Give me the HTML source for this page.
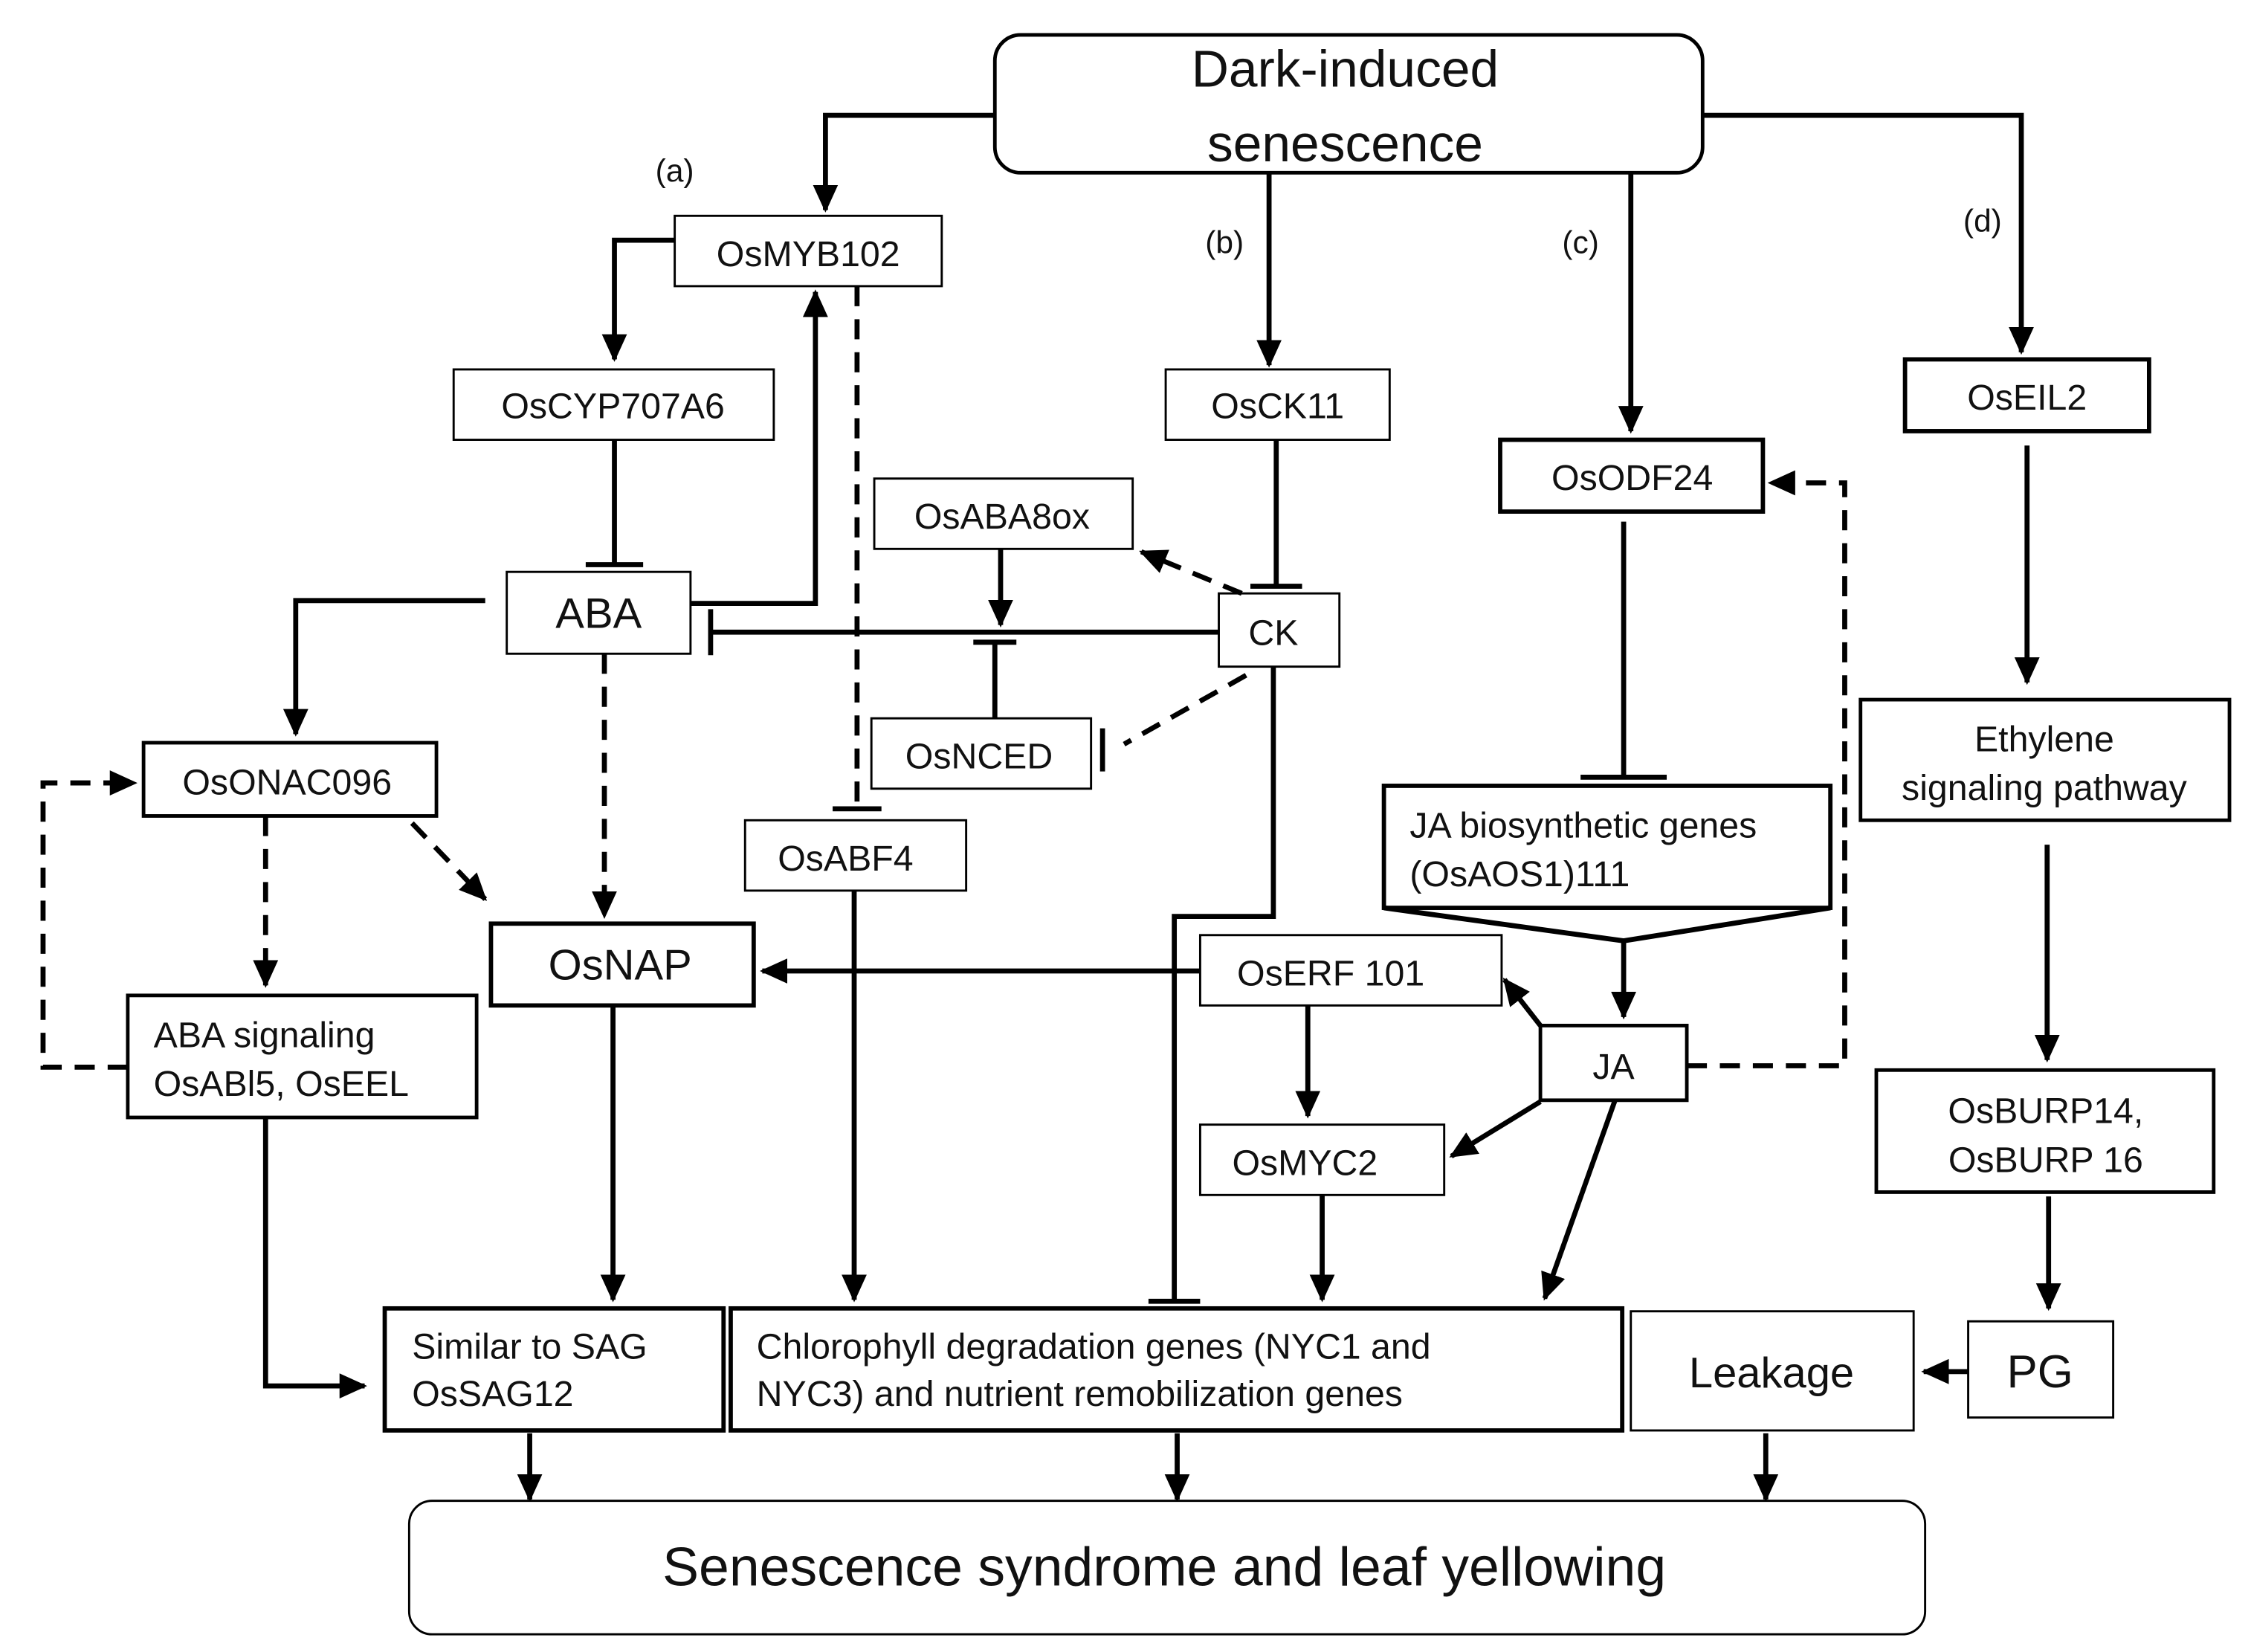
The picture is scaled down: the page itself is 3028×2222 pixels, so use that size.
<!DOCTYPE html>
<html><head><meta charset="utf-8"><style>
html,body{margin:0;padding:0;background:#fff}
svg{display:block}
text{font-family:"Liberation Sans",sans-serif;fill:#111}
</style></head><body>
<svg width="3028" height="2222" viewBox="0 0 1568 1150" xmlns="http://www.w3.org/2000/svg">
<defs>
<marker id="a" markerWidth="6" markerHeight="6" refX="5" refY="3" orient="auto" markerUnits="strokeWidth"><path d="M0,0.5 L5.5,3 L0,5.5 z" fill="#000"/></marker>
</defs>
<g fill="#fff" stroke="#000">
<rect x="693" y="24" width="493" height="96" rx="18" stroke-width="2.5"/>
<rect x="470" y="150" width="186" height="49" stroke-width="1.5"/>
<rect x="316" y="257" width="223" height="49" stroke-width="1.5"/>
<rect x="353" y="398" width="128" height="57" stroke-width="1.5"/>
<rect x="812" y="257" width="156" height="49" stroke-width="1.5"/>
<rect x="609" y="333" width="180" height="49" stroke-width="1.5"/>
<rect x="849" y="413" width="84" height="51" stroke-width="1.5"/>
<rect x="607" y="500" width="153" height="49" stroke-width="1.5"/>
<rect x="519" y="571" width="154" height="49" stroke-width="1.5"/>
<rect x="100" y="517" width="204" height="51" stroke-width="2.5"/>
<rect x="342" y="643" width="183" height="57" stroke-width="3"/>
<rect x="89" y="693" width="243" height="85" stroke-width="2.5"/>
<rect x="1045" y="306" width="183" height="50" stroke-width="3"/>
<rect x="964" y="547" width="311" height="85" stroke-width="3"/>
<rect x="836" y="651" width="210" height="49" stroke-width="1.5"/>
<rect x="1073" y="714" width="102" height="52" stroke-width="2.5"/>
<rect x="836" y="783" width="170" height="49" stroke-width="1.5"/>
<rect x="1327" y="250" width="170" height="50" stroke-width="3"/>
<rect x="1296" y="487" width="257" height="84" stroke-width="2.5"/>
<rect x="1307" y="745" width="235" height="85" stroke-width="2.5"/>
<rect x="1371" y="920" width="101" height="67" stroke-width="1.5"/>
<rect x="1136" y="913" width="197" height="83" stroke-width="1.5"/>
<rect x="268" y="911" width="236" height="85" stroke-width="3"/>
<rect x="509" y="911" width="621" height="85" stroke-width="3"/>
<rect x="285" y="1045" width="1056" height="93" rx="16" stroke-width="1.5"/>
</g>
<g font-size="25" text-anchor="middle">
<text x="937" y="60" font-size="36">Dark-induced</text>
<text x="937" y="112" font-size="36">senescence</text>
<text x="563" y="185">OsMYB102</text>
<text x="427" y="291">OsCYP707A6</text>
<text x="417" y="437" font-size="30">ABA</text>
<text x="890" y="291">OsCK11</text>
<text x="698" y="368">OsABA8ox</text>
<text x="887" y="449">CK</text>
<text x="682" y="535">OsNCED</text>
<text x="589" y="606">OsABF4</text>
<text x="200" y="553">OsONAC096</text>
<text x="432" y="682" font-size="30">OsNAP</text>
<text x="1137" y="341">OsODF24</text>
<text x="927" y="686">OsERF 101</text>
<text x="1124" y="751">JA</text>
<text x="909" y="818">OsMYC2</text>
<text x="1412" y="285">OsEIL2</text>
<text x="1424" y="523">Ethylene</text>
<text x="1424" y="557">signaling pathway</text>
<text x="1425" y="782">OsBURP14,</text>
<text x="1425" y="816">OsBURP 16</text>
<text x="1421" y="966" font-size="32">PG</text>
<text x="1234" y="966" font-size="30">Leakage</text>
<text x="811" y="1104" font-size="38">Senescence syndrome and leaf yellowing</text>
<text x="470" y="126" font-size="22">(a)</text>
<text x="853" y="176" font-size="22">(b)</text>
<text x="1101" y="176" font-size="22">(c)</text>
<text x="1381" y="161" font-size="22">(d)</text>
</g>
<g font-size="25">
<text x="107" y="729">ABA signaling</text>
<text x="107" y="763">OsABl5, OsEEL</text>
<text x="982" y="583">JA biosynthetic  genes</text>
<text x="982" y="617">(OsAOS1)111</text>
<text x="287" y="946">Similar to SAG</text>
<text x="287" y="979">OsSAG12</text>
<text x="527" y="946">Chlorophyll  degradation genes (NYC1  and</text>
<text x="527" y="979">NYC3) and nutrient  remobilization genes</text>
</g>
<g fill="none" stroke="#000" stroke-width="3.5">
<path d="M693,80 H575 V146" marker-end="url(#a)"/>
<path d="M470,167 H428 V250" marker-end="url(#a)"/>
<path d="M428,306 V393 M408,393 H448"/>
<path d="M481,420 H568 V203" marker-end="url(#a)"/>
<path d="M338,418 H206 V511" marker-end="url(#a)"/>
<path d="M884,120 V254" marker-end="url(#a)"/>
<path d="M889,306 V408 M871,408 H907"/>
<path d="M849,440 H495 M495,424 V456"/>
<path d="M697,382 V435" marker-end="url(#a)"/>
<path d="M693,500 V448 M678,447 H708"/>
<path d="M887,464 V638 H818 V906 M800,906 H836"/>
<path d="M185,778 V965 H254" marker-end="url(#a)"/>
<path d="M427,700 V905" marker-end="url(#a)"/>
<path d="M595,620 V905" marker-end="url(#a)"/>
<path d="M836,676 H531" marker-end="url(#a)"/>
<path d="M911,700 V777" marker-end="url(#a)"/>
<path d="M921,832 V905" marker-end="url(#a)"/>
<path d="M1186,80 H1408 V245" marker-end="url(#a)"/>
<path d="M1136,120 V300" marker-end="url(#a)"/>
<path d="M1131,363 V541 M1101,541 H1161"/>
<path d="M964,632 L1131,655 L1275,632 M1131,655 V708" marker-end="url(#a)"/>
<path d="M1073,714 L1048,682" marker-end="url(#a)"/>
<path d="M1073,767 L1011,805" marker-end="url(#a)"/>
<path d="M1125,766 L1076,904" marker-end="url(#a)"/>
<path d="M1412,310 V475" marker-end="url(#a)"/>
<path d="M1426,588 V738" marker-end="url(#a)"/>
<path d="M1427,833 V911" marker-end="url(#a)"/>
<path d="M1371,955 H1340" marker-end="url(#a)"/>
<path d="M369,998 V1044" marker-end="url(#a)"/>
<path d="M820,998 V1044" marker-end="url(#a)"/>
<path d="M1230,998 V1044" marker-end="url(#a)"/>
</g>
<g fill="none" stroke="#000" stroke-width="3.5" stroke-dasharray="14,9">
<path d="M421,455 V638" marker-end="url(#a)"/>
<path d="M597,199 V563"/>
<path d="M865,413 L795,384" marker-end="url(#a)"/>
<path d="M868,470 L783,518"/>
<path d="M287,573 L338,626" marker-end="url(#a)"/>
<path d="M185,568 V686" marker-end="url(#a)"/>
<path d="M89,743 H30 V545 H94" marker-end="url(#a)"/>
<path d="M1175,742 H1285 V336 H1233" marker-end="url(#a)"/>
</g>
<g stroke="#000" stroke-width="3.5">
<path d="M580,563 H614"/>
<path d="M768,507 V537"/>
</g>
</svg>
</body></html>
